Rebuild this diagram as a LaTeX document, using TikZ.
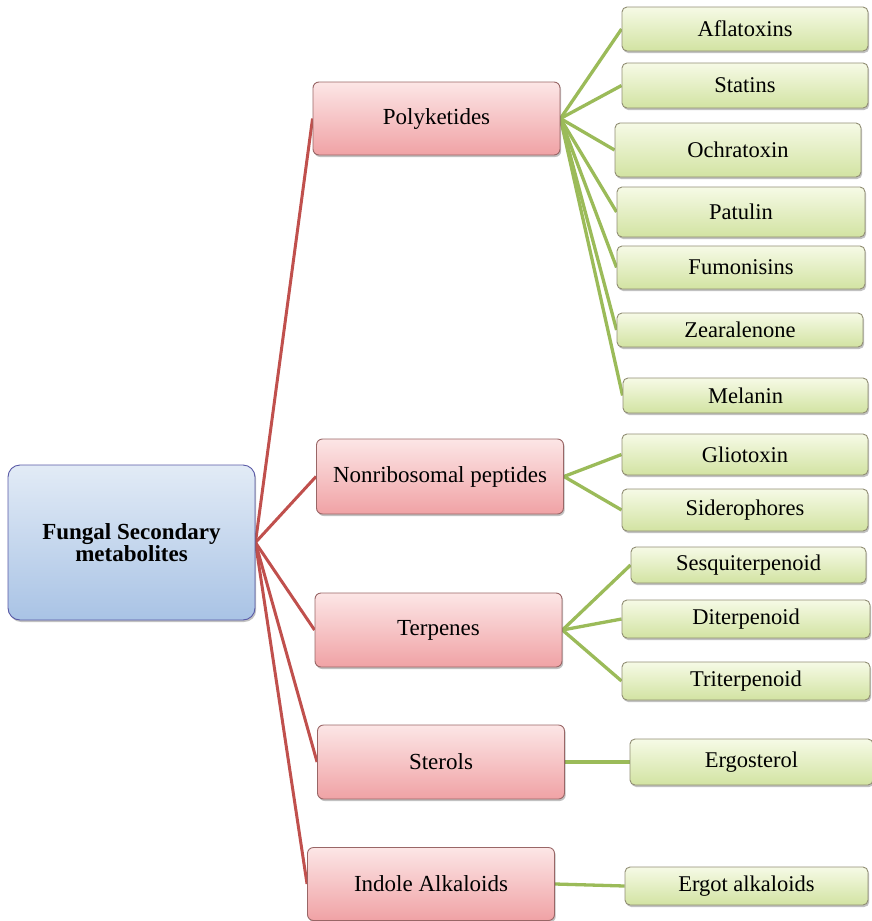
\documentclass[tikz,border=0pt]{standalone}
\usepackage{fontspec}
\setmainfont{Liberation Serif}
\usetikzlibrary{shadows,backgrounds}

% Colours
\definecolor{rootTop}{HTML}{E2EBF6}
\definecolor{rootBot}{HTML}{A9C3E5}
\definecolor{classTop}{HTML}{FCE6E6}
\definecolor{classBot}{HTML}{F0A2A5}
\definecolor{leafTop}{HTML}{F6FAE6}
\definecolor{leafBot}{HTML}{D2E3A2}
\definecolor{redLine}{HTML}{C0504D}
\definecolor{greenLine}{HTML}{9BBB59}

\tikzset{
  box/.style={draw=#1, line width=0.9pt, align=center, inner sep=0pt,
    drop shadow={shadow xshift=1.2pt, shadow yshift=-2pt, opacity=0.35, fill=black!70}},
  rootbox/.style={box=gray!70!blue, top color=rootTop, bottom color=rootBot,
    rounded corners=12pt, font=\fontsize{23}{22}\selectfont\bfseries},
  classbox/.style={box=gray!80!red, top color=classTop, bottom color=classBot,
    rounded corners=6pt, minimum width=247pt, font=\fontsize{23}{24}\selectfont},
  leafbox/.style={box=gray!80!olive, top color=leafTop, bottom color=leafBot,
    rounded corners=5pt, minimum width=246pt, font=\fontsize{22.5}{24}\selectfont},
  redlink/.style={draw=redLine, line width=3pt},
  greenlink/.style={draw=greenLine, line width=3.3pt}
}

\begin{document}
\begin{tikzpicture}[x=1pt, y=-1pt]
\useasboundingbox (0,0) rectangle (871,921);

% Root
\node[rootbox, minimum width=247pt, minimum height=155pt] (fungal) at (131.5,542.5)
  {Fungal Secondary\\metabolites};

% Classes
\node[classbox, minimum height=73pt] (poly) at (436.5,118.5) {Polyketides};
\node[classbox, minimum height=75pt] (nrp) at (440,476.5) {Nonribosomal peptides};
\node[classbox, minimum height=74pt] (terp) at (438.5,630) {Terpenes};
\node[classbox, minimum height=74pt] (sterol) at (441,762) {Sterols};
\node[classbox, minimum height=73pt] (indole) at (431,884) {Indole Alkaloids};

% Polyketides
\node[leafbox, minimum height=44pt] (afla) at (745,29) {Aflatoxins};
\node[leafbox, minimum height=45pt] (statin) at (745,85.5) {Statins};
\node[leafbox, minimum height=54pt] (ochra) at (738,150) {Ochratoxin};
\node[leafbox, minimum width=248pt, minimum height=50pt] (patulin) at (741,212) {Patulin};
\node[leafbox, minimum width=248pt, minimum height=43pt] (fumo) at (741,267.5) {Fumonisins};
\node[leafbox, minimum height=34pt] (zea) at (740,330) {Zearalenone};
\node[leafbox, minimum width=245pt, minimum height=35pt] (melanin) at (745.5,395.5) {Melanin};

% Nonribosomal peptides
\node[leafbox, minimum height=41pt] (glio) at (745,454.5) {Gliotoxin};
\node[leafbox, minimum height=42pt] (sidero) at (745,510) {Siderophores};

% Terpenes
\node[leafbox, minimum width=235pt, minimum height=36pt] (sesq) at (748.5,565) {Sesquiterpenoid};
\node[leafbox, minimum width=248pt, minimum height=38pt] (diter) at (746,619) {Diterpenoid};
\node[leafbox, minimum width=248pt, minimum height=38pt] (triter) at (746,681) {Triterpenoid};

% Sterols and alkaloids
\node[leafbox, minimum width=243pt, minimum height=46pt] (ergost) at (751.5,762) {Ergosterol};
\node[leafbox, minimum width=243pt, minimum height=38pt] (ergot) at (746.5,886) {Ergot alkaloids};

\begin{pgfonlayer}{background}
% Red links from the root
\draw[redlink] (fungal.east) -- (poly.west);
\draw[redlink] (fungal.east) -- (nrp.west);
\draw[redlink] (fungal.east) -- (terp.west);
\draw[redlink] (fungal.east) -- (sterol.west);
\draw[redlink] (fungal.east) -- (indole.west);

% Green links
\draw[greenlink] (poly.east) -- (afla.west);
\draw[greenlink] (poly.east) -- (statin.west);
\draw[greenlink] (poly.east) -- (ochra.west);
\draw[greenlink] (poly.east) -- (patulin.west);
\draw[greenlink] (poly.east) -- (fumo.west);
\draw[greenlink] (poly.east) -- (zea.west);
\draw[greenlink] (poly.east) -- (melanin.west);
\draw[greenlink] (nrp.east) -- (glio.west);
\draw[greenlink] (nrp.east) -- (sidero.west);
\draw[greenlink] (terp.east) -- (sesq.west);
\draw[greenlink] (terp.east) -- (diter.west);
\draw[greenlink] (terp.east) -- (triter.west);
\draw[greenlink] (sterol.east) -- (ergost.west);
\draw[greenlink] (indole.east) -- (ergot.west);
\end{pgfonlayer}

\end{tikzpicture}
\end{document}
